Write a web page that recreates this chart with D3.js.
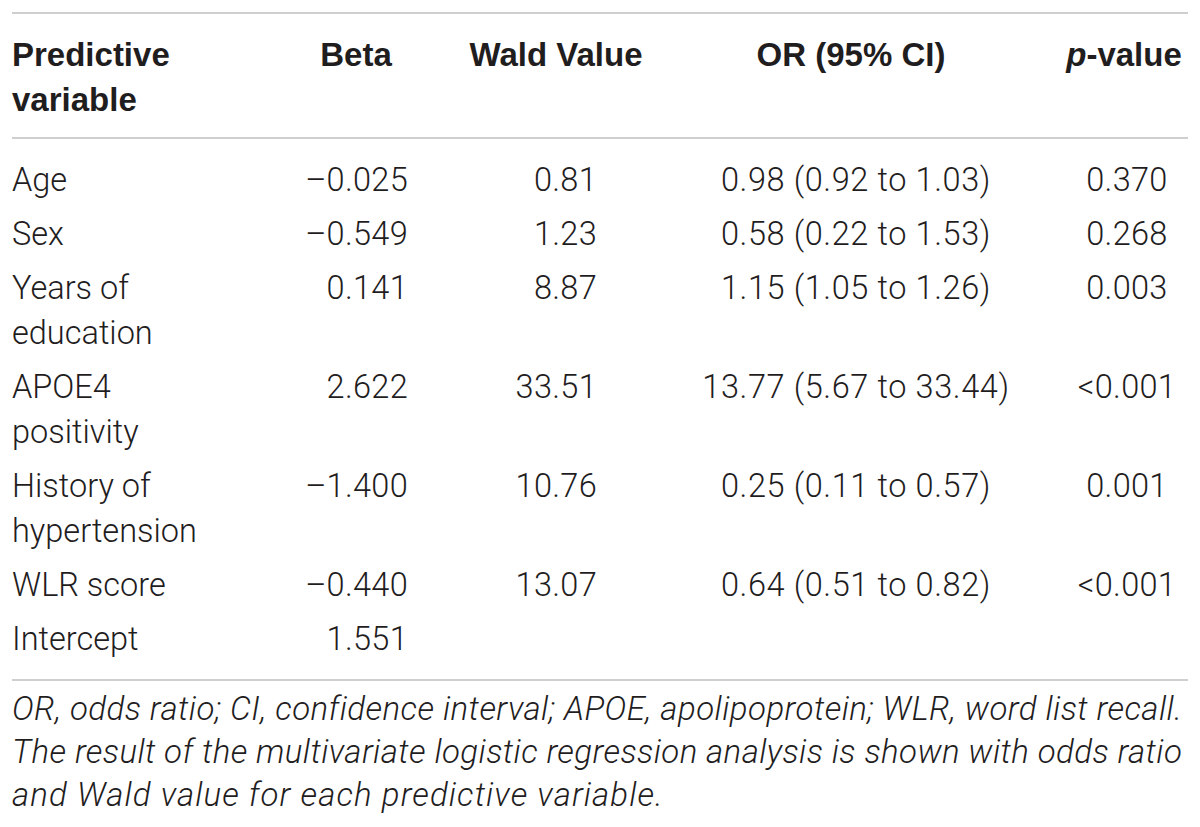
<!DOCTYPE html>
<html>
<head>
<meta charset="utf-8">
<script src="https://cdn.jsdelivr.net/npm/d3@7"></script>
<style>
  body { margin: 0; background: #fff; }
  svg text { font-family: Roboto, "Liberation Sans", sans-serif; }
</style>
</head>
<body>
<svg id="chart" width="1200" height="827"></svg>
<script>
// table content
const headers = [["Predictive", "variable"], ["Beta"], ["Wald Value"], ["OR (95% CI)"], ["p-value"]];
const variables = [["Age"], ["Sex"], ["Years of", "education"], ["APOE4", "positivity"],
  ["History of", "hypertension"], ["WLR score"], ["Intercept"]];
const betas = ["\u20130.025", "\u20130.549", "0.141", "2.622", "\u20131.400", "\u20130.440", "1.551"];
const waldValues = ["0.81", "1.23", "8.87", "33.51", "10.76", "13.07", ""];
const oddsRatios = ["0.98 (0.92 to 1.03)", "0.58 (0.22 to 1.53)", "1.15 (1.05 to 1.26)",
  "13.77 (5.67 to 33.44)", "0.25 (0.11 to 0.57)", "0.64 (0.51 to 0.82)", ""];
const pValues = ["0.370", "0.268", "0.003", "<0.001", "0.001", "<0.001", ""];
const footnotes = [
  "OR, odds ratio; CI, confidence interval; APOE, apolipoprotein; WLR, word list recall.",
  "The result of the multivariate logistic regression analysis is shown with odds ratio",
  "and Wald value for each predictive variable."
];

const svg = d3.select("#chart");
const ink = "#1f1d1e";
const ruleColor = "#cfcfcf";
const left = 12, right = 1188;

const cols = ["var", "beta", "wald", "or", "p"];
const colX = d3.scaleOrdinal().domain(cols).range([left, 408, 597, 856, 1127]);
const colAnchor = d3.scaleOrdinal().domain(cols).range(["start", "end", "end", "middle", "middle"]);
const headX = d3.scaleOrdinal().domain(cols).range([left, 356, 556, 851, 1124]);
const headAnchor = d3.scaleOrdinal().domain(cols).range(["start", "middle", "middle", "middle", "middle"]);

// y position: each text line adds lineStep, each new row adds an extra gap
const lineY = d3.scaleLinear().domain([0, 1]).range([191, 236]);
const rowGap = 9;

let linesBefore = 0;
const rows = variables.map((v, i) => {
  const r = {
    idx: i, lines: v, y: lineY(linesBefore) + rowGap * i,
    beta: betas[i], wald: waldValues[i], or: oddsRatios[i], p: pValues[i]
  };
  linesBefore += v.length;
  return r;
});

// rules
const rules = [13, 138, 680];
svg.selectAll(".rule")
  .data(rules)
  .enter()
  .append("line")
  .attr("class", "rule")
  .attr("x1", left).attr("x2", right)
  .attr("y1", d => d).attr("y2", d => d)
  .attr("stroke", ruleColor)
  .attr("stroke-width", 2);

// header
const headLine = d3.scaleLinear().domain([0, 1]).range([66, 111]);
const head = svg.selectAll(".head")
  .data(cols)
  .enter()
  .append("text")
  .attr("class", "head")
  .attr("x", d => headX(d))
  .attr("text-anchor", d => headAnchor(d))
  .attr("fill", ink)
  .style("font-family", "'Liberation Sans', Arial, sans-serif")
  .style("font-weight", 700)
  .style("font-size", "33px");

head.each(function (d, i) {
  const t = d3.select(this);
  headers[i].forEach((line, j) => {
    if (d === "p") {
      t.append("tspan").attr("x", headX(d)).attr("y", headLine(j))
        .style("font-style", "italic").text("p");
      t.append("tspan").text("-value");
    } else {
      t.append("tspan").attr("x", headX(d)).attr("y", headLine(j)).text(line);
    }
  });
});

// body rows
const bodyStyle = sel => sel
  .attr("fill", ink)
  .style("font-weight", 300)
  .style("font-size", "32.5px");

const rowG = svg.selectAll(".row")
  .data(rows)
  .enter()
  .append("g")
  .attr("class", "row");

rowG.append("text")
  .call(bodyStyle)
  .attr("x", colX("var"))
  .attr("text-anchor", colAnchor("var"))
  .each(function (d) {
    d3.select(this).selectAll("tspan")
      .data(d.lines)
      .enter()
      .append("tspan")
      .attr("x", colX("var"))
      .attr("y", (l, j) => d.y + (lineY(1) - lineY(0)) * j)
      .text(l => l);
  });

["beta", "wald", "or", "p"].forEach(key => {
  rowG.append("text")
    .call(bodyStyle)
    .attr("x", colX(key))
    .attr("y", d => d.y)
    .attr("text-anchor", colAnchor(key))
    .style("letter-spacing", key === "or" ? "0.6px" : "0.3px")
    .text(d => d[key]);
});

// footnote
const footY = d3.scaleLinear().domain([0, 1]).range([720, 763]);
svg.selectAll(".foot")
  .data(footnotes)
  .enter()
  .append("text")
  .attr("class", "foot")
  .attr("x", left)
  .attr("y", (d, i) => footY(i))
  .attr("fill", ink)
  .style("font-weight", 300)
  .style("font-style", "italic")
  .style("font-size", "33px")
  .style("letter-spacing", "1.1px")
  .each(function (d, i) {
    if (i < footnotes.length - 1) {
      d3.select(this).attr("textLength", right - 5 - left).attr("lengthAdjust", "spacing");
    }
  })
  .text(d => d);
</script>
</body>
</html>
